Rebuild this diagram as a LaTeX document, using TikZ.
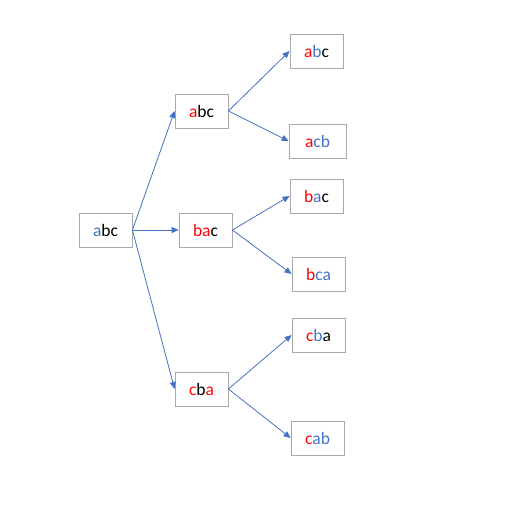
\documentclass[tikz,border=0pt]{standalone}
\usepackage{fontspec}
\setmainfont{Carlito}
\usepackage{tikz}
\usetikzlibrary{arrows.meta}
\definecolor{offblue}{RGB}{68,114,196}
\definecolor{boxgray}{RGB}{170,170,170}
\newcommand{\rd}[1]{\textcolor{red}{#1}}
\newcommand{\bu}[1]{\textcolor{offblue}{#1}}
\tikzset{perm/.style={draw=boxgray, line width=0.8pt, minimum width=53pt, minimum height=34pt, inner sep=0pt, font=\fontsize{17.5}{19}\selectfont}}

\begin{document}
\begin{tikzpicture}[x=1pt, y=-1pt, >={Triangle[length=7pt, width=6pt]}]
  \useasboundingbox (0,0) rectangle (520,508);
  \node[perm] (root) at (105.5,230) {\bu{a}bc};
  \node[perm] (abc) at (201.5,111) {\rd{a}bc};
  \node[perm] (bac) at (205.5,230) {\rd{ba}c};
  \node[perm] (cba) at (201.5,389) {\rd{c}b\rd{a}};
  \node[perm] (abc2) at (316.5,51) {\rd{a}\bu{b}c};
  \node[perm, minimum width=57pt] (acb) at (317.5,141) {\rd{a}\bu{cb}};
  \node[perm] (bac2) at (316.5,196) {\rd{b}\bu{a}c};
  \node[perm] (bca) at (318.5,274) {\rd{b}\bu{ca}};
  \node[perm] (cba2) at (318.5,335) {\rd{c}\bu{b}a};
  \node[perm] (cab) at (317.5,438) {\rd{c}\bu{ab}};
  \draw[->, offblue, line width=0.8pt] (root.east) -- (abc.west);
  \draw[->, offblue, line width=0.8pt] (root.east) -- (bac.west);
  \draw[->, offblue, line width=0.8pt] (root.east) -- (cba.west);
  \draw[->, offblue, line width=0.8pt] (abc.east) -- (abc2.west);
  \draw[->, offblue, line width=0.8pt] (abc.east) -- (acb.west);
  \draw[->, offblue, line width=0.8pt] (bac.east) -- (bac2.west);
  \draw[->, offblue, line width=0.8pt] (bac.east) -- (bca.west);
  \draw[->, offblue, line width=0.8pt] (cba.east) -- (cba2.west);
  \draw[->, offblue, line width=0.8pt] (cba.east) -- (cab.west);
\end{tikzpicture}
\end{document}
